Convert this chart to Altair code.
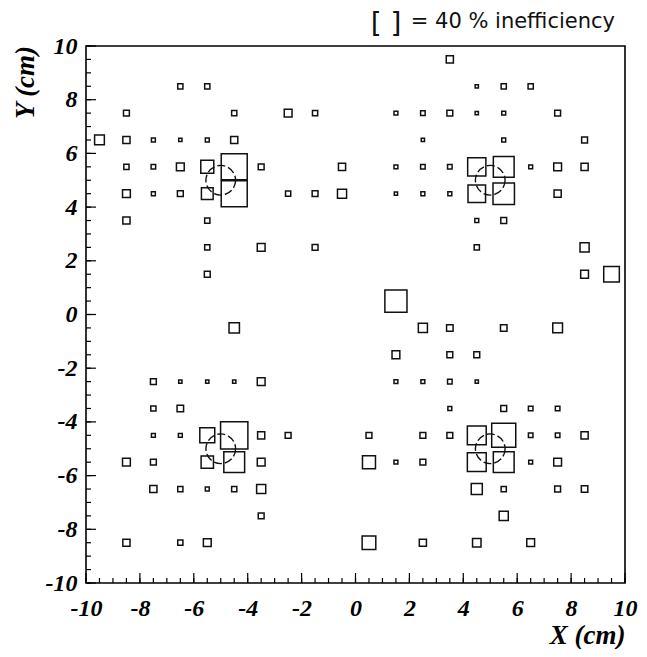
import altair as alt
import pandas as pd

# ---- data: pad positions (cm) and inefficiency (%) ----
x_cm = [
    # upper left
    -6.5, -5.5,
    -8.5, -4.5, -2.5, -1.5,
    -9.5, -8.5, -7.5, -6.5, -5.5, -4.5,
    -8.5, -7.5, -6.5, -5.5, -4.5, -3.5, -0.5,
    -8.5, -7.5, -6.5, -5.5, -4.5, -2.5, -1.5, -0.5,
    -8.5, -5.5,
    -5.5, -3.5, -1.5,
    -5.5,
    # upper right
    3.5,
    4.5, 5.5, 6.5,
    1.5, 2.5, 3.5, 4.5, 5.5, 7.5,
    2.5, 5.5, 8.5,
    1.5, 2.5, 3.5, 4.5, 5.5, 6.5, 7.5, 8.5,
    1.5, 2.5, 3.5, 4.5, 5.5, 7.5,
    4.5, 5.5,
    4.5, 8.5,
    8.5, 9.5,
    # centre
    1.5, -4.5,
    # lower right
    2.5, 3.5, 5.5, 7.5,
    1.5, 3.5, 4.5,
    1.5, 2.5, 3.5, 4.5,
    3.5, 5.5, 6.5, 7.5,
    0.5, 2.5, 3.5, 4.5, 5.5, 6.5, 7.5, 8.5,
    0.5, 1.5, 2.5, 4.5, 5.5, 6.5, 7.5,
    4.5, 5.5, 7.5, 8.5,
    5.5,
    0.5, 2.5, 4.5, 6.5,
    # lower left
    -7.5, -6.5, -5.5, -4.5, -3.5,
    -7.5, -6.5,
    -7.5, -6.5, -5.5, -4.5, -3.5, -2.5,
    -8.5, -7.5, -5.5, -4.5, -3.5,
    -7.5, -6.5, -5.5, -4.5, -3.5,
    -3.5,
    -8.5, -6.5, -5.5,
]
y_cm = [
    8.5, 8.5,
    7.5, 7.5, 7.5, 7.5,
    6.5, 6.5, 6.5, 6.5, 6.5, 6.5,
    5.5, 5.5, 5.5, 5.5, 5.5, 5.5, 5.5,
    4.5, 4.5, 4.5, 4.5, 4.5, 4.5, 4.5, 4.5,
    3.5, 3.5,
    2.5, 2.5, 2.5,
    1.5,
    9.5,
    8.5, 8.5, 8.5,
    7.5, 7.5, 7.5, 7.5, 7.5, 7.5,
    6.5, 6.5, 6.5,
    5.5, 5.5, 5.5, 5.5, 5.5, 5.5, 5.5, 5.5,
    4.5, 4.5, 4.5, 4.5, 4.5, 4.5,
    3.5, 3.5,
    2.5, 2.5,
    1.5, 1.5,
    0.5, -0.5,
    -0.5, -0.5, -0.5, -0.5,
    -1.5, -1.5, -1.5,
    -2.5, -2.5, -2.5, -2.5,
    -3.5, -3.5, -3.5, -3.5,
    -4.5, -4.5, -4.5, -4.5, -4.5, -4.5, -4.5, -4.5,
    -5.5, -5.5, -5.5, -5.5, -5.5, -5.5, -5.5,
    -6.5, -6.5, -6.5, -6.5,
    -7.5,
    -8.5, -8.5, -8.5, -8.5,
    -2.5, -2.5, -2.5, -2.5, -2.5,
    -3.5, -3.5,
    -4.5, -4.5, -4.5, -4.5, -4.5, -4.5,
    -5.5, -5.5, -5.5, -5.5, -5.5,
    -6.5, -6.5, -6.5, -6.5, -6.5,
    -7.5,
    -8.5, -8.5, -8.5,
]
ineff = [
    8, 8,
    9, 8, 12, 8,
    15, 11, 6, 5, 6, 11,
    8, 7, 12, 20, 40, 9, 11,
    12, 6, 9, 18, 40, 8, 9, 14,
    11, 8,
    8, 12, 9,
    9,
    11,
    5, 8, 8,
    6, 7, 9, 5, 6, 9,
    5, 6, 9,
    6, 7, 7, 28, 32, 6, 12, 11,
    5, 6, 6, 27, 33, 11,
    6, 9,
    8, 14,
    12, 24,
    34, 16,
    14, 10, 10, 15,
    12, 9, 9,
    6, 6, 7, 5,
    6, 9, 7, 7,
    9, 9, 9, 29, 37, 7, 7, 11,
    20, 6, 9, 29, 32, 6, 12,
    17, 8, 9, 10,
    14,
    21, 11, 13, 12,
    9, 5, 5, 5, 12,
    8, 10,
    6, 6, 23, 42, 11, 9,
    12, 9, 19, 32, 12,
    11, 8, 6, 8, 14,
    9,
    11, 8, 12,
]

circle_x = [-5, 5, -5, 5]
circle_y = [5, 5, -5, -5]

major_ticks = [-10, -8, -6, -4, -2, 0, 2, 4, 6, 8, 10]
minor_ticks = [v / 2 for v in range(-20, 21)]

legend_box = ["[ ]"]
legend_label = ["= 40 % inefficiency"]

W, H = 539, 537
INK = "#111111"
SERIF = "Liberation Serif"

xs = alt.Scale(domain=[-10, 10], nice=False, zero=False)
ys = alt.Scale(domain=[-10, 10], nice=False, zero=False)

df = pd.DataFrame({"x": x_cm, "y": y_cm, "ineff": ineff})

axis_common = dict(
    grid=False, ticks=False, tickSize=0, domain=False, values=major_ticks,
    labelFont=SERIF, labelFontWeight="bold", labelFontStyle="italic",
    labelFontSize=24, labelColor="black", labelOverlap=False,
    labelExpr="'' + datum.value",
    titleFont=SERIF, titleFontWeight="bold", titleFontStyle="italic",
    titleFontSize=27, titleColor="black",
)
x_axis = alt.Axis(
    title="X (cm)", labelPadding=13, labelFlush=False,
    titleX=W, titleY=60, titleAlign="right", titleBaseline="alphabetic",
    **axis_common)
y_axis = alt.Axis(
    title="Y (cm)", labelPadding=9,
    titleAngle=270, titleX=-61, titleY=36, titleAlign="center",
    titleBaseline="middle", **axis_common)

squares = alt.Chart(df).mark_square(
    filled=False, color=INK, strokeWidth=1.5, opacity=1
).encode(
    x=alt.X("x:Q", scale=xs, axis=x_axis),
    y=alt.Y("y:Q", scale=ys, axis=y_axis),
    size=alt.Size("ineff:Q", scale=alt.Scale(type="pow", exponent=2,
                                             domain=[0, 40], range=[0, 676]),
                  legend=None),
)

circles = alt.Chart(pd.DataFrame({"cx": circle_x, "cy": circle_y})).mark_point(
    shape="circle", filled=False, size=880, strokeDash=[8, 3],
    strokeWidth=1.4, color=INK, opacity=1
).encode(
    x=alt.X("cx:Q", scale=xs, axis=x_axis),
    y=alt.Y("cy:Q", scale=ys, axis=y_axis),
)

def xticks(vals, length):
    return alt.Chart(pd.DataFrame({"v": vals})).mark_rule(
        color="black", strokeWidth=1.2
    ).encode(
        x=alt.X("v:Q", scale=xs, axis=x_axis),
        y=alt.value(H), y2=alt.value(H - length),
    )

def yticks(vals, length):
    return alt.Chart(pd.DataFrame({"v": vals})).mark_rule(
        color="black", strokeWidth=1.2
    ).encode(
        y=alt.Y("v:Q", scale=ys, axis=y_axis),
        x=alt.value(0), x2=alt.value(length),
    )

box_text = alt.Chart(pd.DataFrame({"t": legend_box})).mark_text(
    font="DejaVu Sans", fontSize=28, align="center", baseline="middle",
    color=INK
).encode(text="t:N", x=alt.value(300), y=alt.value(-21))

label_text = alt.Chart(pd.DataFrame({"t": legend_label})).mark_text(
    font="DejaVu Sans", fontSize=21, align="right", baseline="alphabetic",
    color=INK
).encode(text="t:N", x=alt.value(529), y=alt.value(-18))

chart = alt.layer(
    squares, circles,
    xticks(minor_ticks, 5), xticks(major_ticks, 10),
    yticks(minor_ticks, 5), yticks(major_ticks, 10),
    box_text, label_text,
).properties(
    width=W, height=H,
    autosize=alt.AutoSizeParams(type="none"),
    padding={"left": 78, "top": 38, "right": 14, "bottom": 66},
    background="white",
).configure_view(stroke="black", strokeWidth=1.6)

chart.save("out.html", embed_options={"renderer": "svg", "actions": False})
